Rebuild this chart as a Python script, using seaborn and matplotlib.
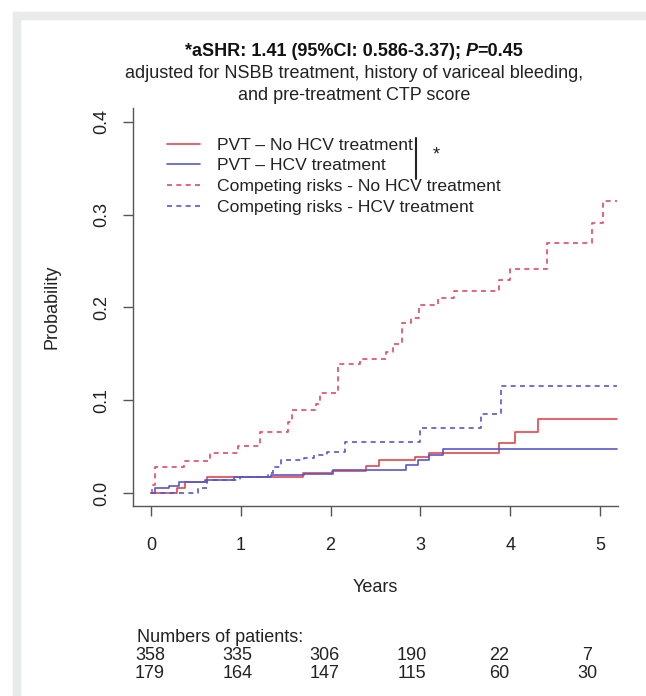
import numpy as np
import pandas as pd
import seaborn as sns
import matplotlib.pyplot as plt
from matplotlib.lines import Line2D
from matplotlib.patches import Rectangle

# step curves (years, cumulative probability)
pvt_nohcv_t = [0, 0.29, 0.38, 0.62, 1.69, 2.02, 2.39, 2.54, 2.94, 3.10, 3.88, 4.05, 4.31]
pvt_nohcv_p = [0, 0.005, 0.012, 0.017, 0.022, 0.024, 0.029, 0.0356, 0.039, 0.0428, 0.0535, 0.066, 0.0794]

pvt_hcv_t = [0, 0.04, 0.20, 0.31, 0.60, 0.93, 1.34, 1.70, 2.03, 2.84, 2.97, 3.10, 3.25]
pvt_hcv_p = [0, 0.005, 0.008, 0.012, 0.014, 0.017, 0.0194, 0.021, 0.0248, 0.030, 0.0356, 0.041, 0.047]

cr_nohcv_t = [0, 0.01, 0.05, 0.37, 0.66, 0.97, 1.21, 1.53, 1.57, 1.84, 1.88, 2.08, 2.33,
              2.62, 2.70, 2.79, 2.89, 2.98, 3.20, 3.37, 3.87, 4.00, 4.41, 4.91, 5.03]
cr_nohcv_p = [0, 0.009, 0.028, 0.034, 0.0435, 0.051, 0.066, 0.077, 0.0895, 0.096, 0.108, 0.139, 0.144,
              0.152, 0.161, 0.183, 0.189, 0.203, 0.210, 0.218, 0.230, 0.241, 0.270, 0.291, 0.315]

cr_hcv_t = [0, 0.52, 0.62, 0.99, 1.30, 1.36, 1.45, 1.70, 1.82, 1.96, 2.16, 3.00, 3.68, 3.90]
cr_hcv_p = [0, 0.005, 0.014, 0.017, 0.022, 0.028, 0.0356, 0.0374, 0.041, 0.0445, 0.0553, 0.0697, 0.085, 0.115]

t_end = 5.19

labels = ["PVT \u2013 No HCV treatment", "PVT \u2013 HCV treatment",
          "Competing risks - No HCV treatment", "Competing risks - HCV treatment"]

years = [0, 1, 2, 3, 4, 5]
n_nohcv = [358, 335, 306, 190, 22, 7]
n_hcv = [179, 164, 147, 115, 60, 30]

red = "#e2474d"
red_d = "#df4c62"
blue = "#5757cc"

curves = [(pvt_nohcv_t, pvt_nohcv_p), (pvt_hcv_t, pvt_hcv_p),
          (cr_nohcv_t, cr_nohcv_p), (cr_hcv_t, cr_hcv_p)]
rows = []
for lab, (t, p) in zip(labels, curves):
    for ti, pi in zip(list(t) + [t_end], list(p) + [p[-1]]):
        rows.append({"Years": ti, "Probability": pi, "curve": lab})
df = pd.DataFrame(rows)

sns.set_style("white")
plt.rcParams["font.family"] = ["Liberation Sans", "DejaVu Sans"]
fs = 13
lw = 1.2
dash = (3, 2.6)

fig = plt.figure(figsize=(6.46, 6.96), dpi=100)
W, H = 646, 696

# grey frame at top and left of the picture
fig.patches.append(Rectangle((13 / W, 1 - 19 / H), 1 - 13 / W, 7 / H,
                             transform=fig.transFigure, color="#e9eaea", zorder=0))
fig.patches.append(Rectangle((13 / W, 0), 7 / W, 1 - 12 / H,
                             transform=fig.transFigure, color="#e9eaea", zorder=0))

ax = fig.add_axes([133 / W, 1 - 506 / H, (618 - 133) / W, (506 - 108) / H])
ax.patch.set_alpha(0)

palette = {labels[0]: red, labels[1]: blue, labels[2]: red_d, labels[3]: blue}
dashes = {labels[0]: "", labels[1]: "", labels[2]: dash, labels[3]: dash}
sns.lineplot(data=df, x="Years", y="Probability", hue="curve", style="curve",
             palette=palette, dashes=dashes, drawstyle="steps-post",
             estimator=None, legend=False, lw=lw, ax=ax)

ax.set_xlim(-0.2, 5.2)
ax.set_ylim(-0.014, 0.415)
ax.set_xticks(years)
ax.set_yticks([0.0, 0.1, 0.2, 0.3, 0.4])
ax.set_yticklabels(["0.0", "0.1", "0.2", "0.3", "0.4"], rotation=90, va="center")
ax.tick_params(axis="both", direction="out", length=7.5, width=1, color="#555555",
               labelsize=fs, labelcolor="#222222", left=True, bottom=True)
ax.tick_params(axis="x", pad=15)
ax.tick_params(axis="y", pad=9)
for s in ["top", "right"]:
    ax.spines[s].set_visible(False)
for s in ["left", "bottom"]:
    ax.spines[s].set_color("#555555")
    ax.spines[s].set_linewidth(1)
ax.set_xlabel("")
ax.set_ylabel("")

fig.text(375 / W, 1 - 587 / H, "Years", ha="center", va="center", fontsize=fs, color="#222222")
fig.text(52 / W, 1 - 307 / H, "Probability", ha="center", va="center", rotation=90,
         fontsize=fs, color="#222222")

# legend drawn by hand, R style
handles = [Line2D([], [], color=red, lw=lw),
           Line2D([], [], color=blue, lw=lw),
           Line2D([], [], color=red_d, lw=lw, ls=(0, dash)),
           Line2D([], [], color=blue, lw=lw, ls=(0, dash))]
leg = ax.legend(handles, labels, loc="upper left", bbox_to_anchor=(0.070, 0.926),
                frameon=False, fontsize=12.6, handlelength=1.9, handletextpad=0.97,
                labelspacing=0.31, borderaxespad=0, borderpad=0, labelcolor="#222222")
fig.add_artist(Line2D([416 / W, 416 / W], [1 - 138 / H, 1 - 179 / H],
                      transform=fig.transFigure, color="#222222", lw=1.5))
fig.text(436 / W, 1 - 155 / H, "*", ha="center", va="center", fontsize=fs, color="#222222")

# title: bold, with italic P
fig.canvas.draw()
renderer = fig.canvas.get_renderer()
parts = [("*aSHR: 1.41 (95%CI: 0.586-3.37); ", "normal"), ("P", "italic"), ("=0.45", "normal")]
txts = [fig.text(0, 1 - 52 / H, s, fontsize=fs, fontweight="bold", fontstyle=st,
                 ha="left", va="center", color="#111111") for s, st in parts]
widths = [t.get_window_extent(renderer).width for t in txts]
x0 = 354 - sum(widths) / 2
for t, w in zip(txts, widths):
    t.set_x(x0 / W)
    x0 += w
fig.text(354 / W, 1 - 74 / H, "adjusted for NSBB treatment, history of variceal bleeding,",
         ha="center", va="center", fontsize=fs, color="#222222")
fig.text(354 / W, 1 - 95 / H, "and pre-treatment CTP score",
         ha="center", va="center", fontsize=fs, color="#222222")

# numbers at risk
fig.text(137 / W, 1 - 638 / H, "Numbers of patients:", ha="left", va="center",
         fontsize=fs, color="#222222")
for i in range(len(years)):
    xc = (150 + 87.4 * i) / W
    fig.text(xc, 1 - 656 / H, str(n_nohcv[i]), ha="center", va="center", fontsize=fs, color="#222222")
    fig.text(xc, 1 - 674 / H, str(n_hcv[i]), ha="center", va="center", fontsize=fs, color="#222222")

fig.savefig("out.png", dpi=100)
